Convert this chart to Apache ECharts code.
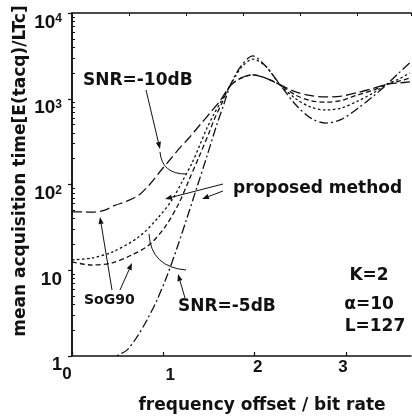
<!DOCTYPE html>
<html>
<head>
<meta charset="utf-8">
<script src="https://cdn.jsdelivr.net/npm/echarts@6/dist/echarts.min.js"></script>
<style>
html,body{margin:0;padding:0;background:#fff;}
#c{width:412px;height:418px;}
</style>
</head>
<body>
<div id="c"></div>
<script>
// ---- data ----
const xTicks = [0, 1, 2, 3];
const yTickExps = [0, 1, 2, 3, 4];
const seriesNames = ['SoG90 SNR=-10dB', 'proposed SNR=-10dB', 'SoG90 SNR=-5dB', 'proposed SNR=-5dB'];

const xA = [0,0.12,0.22,0.35,0.47,0.6,0.73,0.85,0.96,1.07,1.18,1.29,1.40,1.51,1.62,1.73,1.85,1.98,2.12,2.28,2.45,2.62,2.78,2.95,3.12,3.3,3.45,3.58,3.70];
const yA = [48,48,47.5,50,57,64,75,100,140,193,267,358,494,680,940,1410,1740,1900,1740,1450,1200,1085,1050,1075,1175,1320,1480,1530,1570];

const xB = [0,0.22,0.44,0.73,0.95,1.095,1.204,1.314,1.40,1.478,1.555,1.642,1.73,1.85,1.98,2.12,2.28,2.45,2.62,2.78,2.95,3.12,3.3,3.45,3.58,3.70];
const yB = [13.2,13.9,16.3,24.4,41.8,66,107,178,289,456,664,967,1410,2290,2900,2400,1450,1000,795,740,780,930,1170,1480,1700,2000];

const xC = [0,0.22,0.44,0.657,0.843,1.018,1.172,1.281,1.39,1.50,1.555,1.642,1.73,1.85,1.98,2.12,2.28,2.45,2.62,2.78,2.95,3.12,3.3,3.45,3.58,3.70];
const yC = [12.5,11.5,12.2,15.1,19.7,31.9,60.8,113,209,399,565,892,1410,1740,1900,1740,1450,1100,945,912,955,1100,1260,1480,1600,1740];

const xD = [0.40,0.493,0.602,0.712,0.821,0.931,1.04,1.15,1.259,1.369,1.478,1.588,1.664,1.73,1.85,1.98,2.12,2.28,2.45,2.62,2.78,2.95,3.12,3.3,3.45,3.58,3.70];
const yD = [0.8,1,1.17,1.67,2.63,4.5,8.57,18.2,40.7,93.5,215,508,869,1410,2400,3160,2400,1450,850,590,521,575,760,1070,1480,2000,2630];

// ---- chart ----
const zip = (xs, ys) => xs.map((x, i) => [x, ys[i]]);
const INK = '#111';
const dashes = [[10, 4], [2.5, 2.5], [5, 3], [9, 3, 2, 3]];
const allData = [zip(xA, yA), zip(xB, yB), zip(xC, yC), zip(xD, yD)];

// minor tick positions on the decade (exponent) scale: log10(2..9) in each decade
const minorTickExps = [];
for (let e = 0; e < 4; e++) for (let m = 2; m <= 9; m++) minorTickExps.push(e + Math.log10(m));

const chart = echarts.init(document.getElementById('c'), null, {renderer: 'canvas'});

const labelFont = '"Liberation Sans", Arial, sans-serif';
const textFont = '"DejaVu Sans", sans-serif';

function arrow(x1, y1, x2, y2) {
  const a = Math.atan2(y2 - y1, x2 - x1);
  const L = 7, W = 2.6;
  const bx = x2 - L * Math.cos(a), by = y2 - L * Math.sin(a);
  const px = -Math.sin(a) * W, py = Math.cos(a) * W;
  return [
    {type: 'line', shape: {x1: x1, y1: y1, x2: bx, y2: by}, style: {stroke: INK, lineWidth: 1}},
    {type: 'polygon', shape: {points: [[x2, y2], [bx + px, by + py], [bx - px, by - py]]}, style: {fill: INK}}
  ];
}
function txt(t, x, y, size, align, extra) {
  return Object.assign({
    type: 'text', x: x, y: y,
    style: {text: t, fill: INK, font: 'bold ' + size + 'px ' + textFont, textAlign: align || 'left', textVerticalAlign: 'middle'}
  }, extra || {});
}

const graphics = [].concat(
  txt('SNR=-10dB', 83, 81, 17),
  txt('proposed method', 233, 189, 17),
  txt('SoG90', 84, 300, 14),
  txt('SNR=-5dB', 178, 307, 17),
  txt('K=2', 369, 276, 17, 'center'),
  txt('α=10', 369, 305, 17, 'center'),
  txt('L=127', 375, 327, 17, 'center'),
  txt('mean acquisition time[E(tacq)/LTc]', 21, 171, 17, 'center', {rotation: Math.PI / 2}),
  txt('frequency offset / bit rate', 262, 406, 17, 'center'),
  arrow(146, 90, 160, 149),
  arrow(223, 184, 165, 199),
  arrow(223, 191, 202, 199),
  arrow(112, 290, 100, 217),
  arrow(120, 290, 132, 263),
  arrow(185, 298, 178, 274),
  [
    {type: 'bezierCurve', shape: {x1: 160, y1: 152, cpx1: 162, cpy1: 174, x2: 186, y2: 174}, style: {stroke: INK, fill: null, lineWidth: 1}},
    {type: 'bezierCurve', shape: {x1: 149, y1: 234, cpx1: 151, cpy1: 267, x2: 186, y2: 270}, style: {stroke: INK, fill: null, lineWidth: 1}}
  ]
);

const xRich = {
  t0: {fontSize: 17, fontWeight: 'bold', fontFamily: labelFont, color: INK, padding: [7, 10, 0, 0]},
  t1: {fontSize: 17, fontWeight: 'bold', fontFamily: labelFont, color: INK, padding: [8, 0, 0, 14]},
  t2: {fontSize: 17, fontWeight: 'bold', fontFamily: labelFont, color: INK, padding: [0, 0, 0, 6]},
  t3: {fontSize: 17, fontWeight: 'bold', fontFamily: labelFont, color: INK, padding: [0, 6, 0, 0]}
};

const option = {
  backgroundColor: '#fff',
  animation: false,
  grid: {left: 72, top: 13, right: 1, bottom: 62, containLabel: false},
  xAxis: [
    {
      type: 'value', min: 0, max: 3.712, interval: 1, position: 'bottom',
      axisLine: {show: true, lineStyle: {color: INK, width: 1.5}},
      axisTick: {show: true, inside: true, length: 4, lineStyle: {color: INK, width: 1.2}},
      splitLine: {show: false},
      axisLabel: {
        margin: 3,
        showMaxLabel: false,
        hideOverlap: false,
        verticalAlign: 'top',
        formatter: v => xTicks.includes(v) ? '{t' + v + '|' + v + '}' : '',
        rich: xRich
      }
    },
    {
      type: 'value', min: 0, max: 5.947, interval: 1, position: 'top',
      axisLine: {show: true, lineStyle: {color: INK, width: 1.5}},
      axisTick: {show: true, inside: true, length: 3, lineStyle: {color: INK, width: 1}},
      splitLine: {show: false}, axisLabel: {show: false}
    }
  ],
  yAxis: [
    {
      type: 'log', logBase: 10, min: 1, max: 10000, position: 'left',
      axisLine: {show: true, lineStyle: {color: INK, width: 1.5}},
      axisTick: {show: true, inside: false, length: 4, lineStyle: {color: INK, width: 1.2}},
      splitLine: {show: false},
      axisLabel: {
        margin: 10,
        hideOverlap: false,
        verticalAlign: 'top',
        formatter: v => {
          const e = Math.round(Math.log10(v));
          if (!yTickExps.includes(e)) return '';
          if (e === 0) return '{o|1}';
          if (e === 1) return '{b|10}';
          return '{b|10}{s|' + e + '}';
        },
        rich: {
          b: {fontSize: 19, fontWeight: 'bold', fontFamily: labelFont, color: INK, lineHeight: 14, verticalAlign: 'top'},
          o: {fontSize: 18, fontWeight: 'bold', fontFamily: labelFont, color: INK, lineHeight: 14, verticalAlign: 'top'},
          s: {fontSize: 12, fontWeight: 'bold', fontFamily: labelFont, color: INK, lineHeight: 2, verticalAlign: 'top'}
        }
      }
    },
    {
      type: 'log', logBase: 10, min: 1, max: 10000, position: 'right',
      axisLine: {show: true, lineStyle: {color: INK, width: 1.5}},
      axisTick: {show: true, inside: true, length: 4, lineStyle: {color: INK, width: 1}},
      splitLine: {show: false}, axisLabel: {show: false}
    },
    {
      type: 'value', min: 0, max: 4, position: 'left',
      axisLine: {show: false},
      axisTick: {show: true, inside: true, length: 3, customValues: minorTickExps, lineStyle: {color: INK, width: 1}},
      splitLine: {show: false}, axisLabel: {show: false}
    }
  ],
  series: allData.map((d, i) => ({
    name: seriesNames[i],
    type: 'line',
    xAxisIndex: 0, yAxisIndex: 0,
    data: d,
    smooth: 0.3,
    showSymbol: false,
    clip: true,
    lineStyle: {color: INK, width: 1.3, type: dashes[i]}
  })),
  graphic: graphics
};
chart.setOption(option);
</script>
</body>
</html>
